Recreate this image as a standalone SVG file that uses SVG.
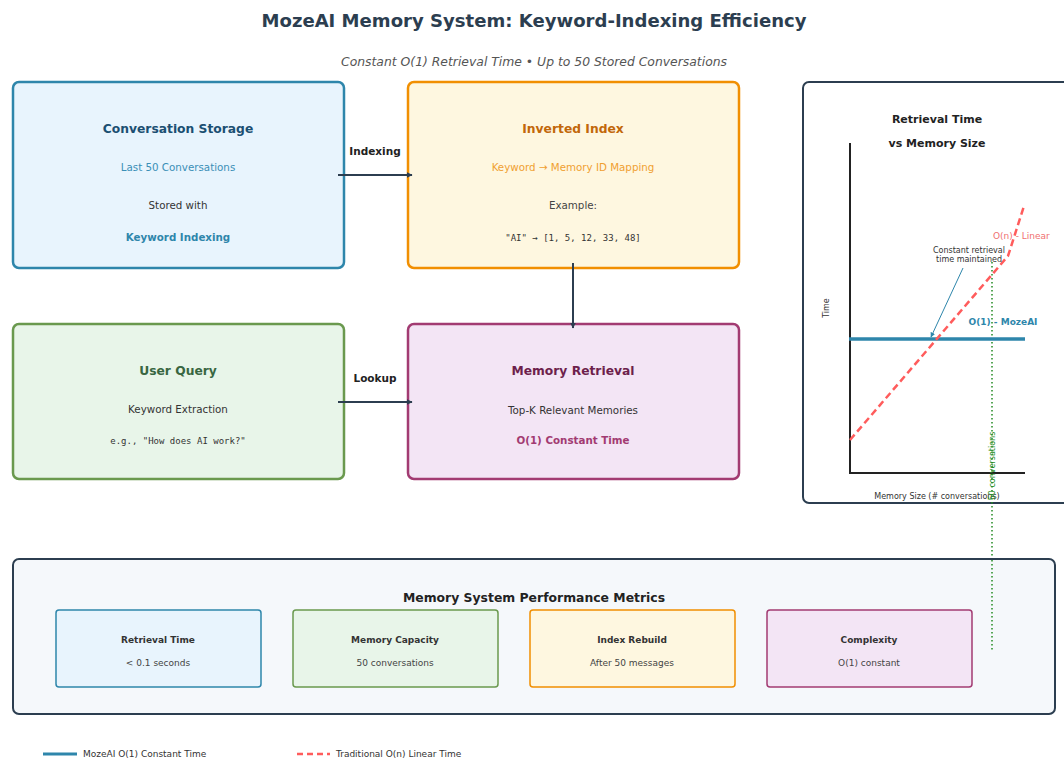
<svg xmlns="http://www.w3.org/2000/svg" width="1064" height="758" viewBox="0 0 1064 758">
<defs>
<marker id="ah" viewBox="0 0 10 10" refX="9" refY="5" markerWidth="6" markerHeight="6" orient="auto" markerUnits="userSpaceOnUse"><path d="M0,0 L10,5 L0,10 z" fill="#2c3e50"/></marker>
<marker id="ahb" viewBox="0 0 10 10" refX="9" refY="5" markerWidth="5" markerHeight="5" orient="auto" markerUnits="userSpaceOnUse"><path d="M0,0 L10,5 L0,10 z" fill="#2e86ab"/></marker>
</defs>
<style>
text{font-family:"DejaVu Sans","Liberation Sans",sans-serif;text-anchor:middle}
.t{font-weight:bold;font-size:12.3px}
.s{font-size:10.3px}
.b{font-weight:bold;font-size:10.3px}
.m{font-family:"DejaVu Sans Mono","Liberation Mono",monospace;font-size:9px;fill:#333}
.blue{fill:#e8f4fd;stroke:#2e86ab}
.green{fill:#e8f5e9;stroke:#6a994e}
.orange{fill:#fef7e0;stroke:#f18f01}
.purple{fill:#f3e5f5;stroke:#a23b72}
.node rect{stroke-width:2.5}
.met rect{stroke-width:1.5}
.mt{font-weight:bold;font-size:9px;fill:#333}
.mv{font-size:9px;fill:#444}
.conn line{stroke:#2c3e50;stroke-width:2;marker-end:url(#ah)}
.cl{font-weight:bold;font-size:10.5px;fill:#222}
.sm{font-size:8px;fill:#333}
.lg{font-size:9px;fill:#333;text-anchor:start}
</style>
<rect width="1064" height="758" fill="#ffffff"/>
<text x="534" y="27" style="font-size:18px;font-weight:bold;fill:#2c3e50" textLength="545" lengthAdjust="spacingAndGlyphs">MozeAI Memory System: Keyword-Indexing Efficiency</text>
<text x="534" y="66" style="font-size:13px;font-style:italic;fill:#555" textLength="386" lengthAdjust="spacingAndGlyphs">Constant O(1) Retrieval Time • Up to 50 Stored Conversations</text>

<g id="conversation-storage" class="node">
<rect x="13" y="82" width="331" height="186" rx="6" class="blue"/>
<text x="178" y="133" class="t" fill="#1b4f72">Conversation Storage</text>
<text x="178" y="171" class="s" fill="#3a8fb7">Last 50 Conversations</text>
<text x="178" y="209" class="s" fill="#333">Stored with</text>
<text x="178" y="241" class="b" fill="#2e86ab">Keyword Indexing</text>
</g>
<g id="inverted-index" class="node">
<rect x="408" y="82" width="331" height="186" rx="6" class="orange"/>
<text x="573" y="133" class="t" fill="#c2670a">Inverted Index</text>
<text x="573" y="171" class="s" fill="#f0a030">Keyword → Memory ID Mapping</text>
<text x="573" y="209" class="s" fill="#444">Example:</text>
<text x="573" y="241" class="m">"AI" → [1, 5, 12, 33, 48]</text>
</g>
<g id="user-query" class="node">
<rect x="13" y="324" width="331" height="155" rx="6" class="green"/>
<text x="178" y="375" class="t" fill="#386641">User Query</text>
<text x="178" y="413" class="s" fill="#333">Keyword Extraction</text>
<text x="178" y="444" class="m">e.g., "How does AI work?"</text>
</g>
<g id="memory-retrieval" class="node">
<rect x="408" y="324" width="331" height="155" rx="6" class="purple"/>
<text x="573" y="375" class="t" fill="#6d1f4c">Memory Retrieval</text>
<text x="573" y="414" class="s" fill="#333">Top-K Relevant Memories</text>
<text x="573" y="444" class="b" fill="#a23b72">O(1) Constant Time</text>
</g>

<g id="connectors" class="conn">
<line x1="338" y1="175" x2="412" y2="175"/>
<text x="375" y="155" class="cl">Indexing</text>
<line x1="573" y1="263" x2="573" y2="328"/>
<line x1="338" y1="402" x2="412" y2="402"/>
<text x="375" y="382" class="cl">Lookup</text>
</g>

<g id="chart">
<rect x="803" y="82" width="270" height="421" rx="6" fill="#ffffff" stroke="#2c3e50" stroke-width="2"/>
<text x="937" y="123" style="font-weight:bold;font-size:11px;fill:#222">Retrieval Time</text>
<text x="937" y="147" style="font-weight:bold;font-size:11px;fill:#222">vs Memory Size</text>
<line x1="850" y1="143" x2="850" y2="473" stroke="#222" stroke-width="2"/>
<line x1="849" y1="473" x2="1025" y2="473" stroke="#222" stroke-width="2"/>
<text x="829" y="308" class="sm" transform="rotate(-90 829 308)">Time</text>
<text x="937" y="499" class="sm">Memory Size (# conversations)</text>
<line x1="992" y1="262" x2="992" y2="652" stroke="#228b22" stroke-width="1.5" stroke-dasharray="1.5 2.5"/>
<text x="995" y="466" class="sm" style="fill:#228b22" transform="rotate(-90 995 466)">50 conversations</text>
<line x1="849" y1="339" x2="1025" y2="339" stroke="#2e86ab" stroke-width="3.5"/>
<polyline points="850,440 1008,256 1024,206" fill="none" stroke="#ff5c5c" stroke-width="2.5" stroke-dasharray="7 4"/>
<text x="993" y="239" style="font-size:9px;fill:#f07070;text-anchor:start">O(n) - Linear</text>
<text x="969" y="253" class="sm">Constant retrieval</text>
<text x="969" y="262" class="sm">time maintained</text>
<line x1="963" y1="268" x2="931" y2="337" stroke="#2e86ab" stroke-width="1" marker-end="url(#ahb)"/>
<text x="1003" y="325" style="font-weight:bold;font-size:9px;fill:#2e86ab">O(1) - MozeAI</text>
</g>

<g id="metrics">
<rect x="13" y="559" width="1042" height="155" rx="6" fill="#f5f8fb" stroke="#2c3e50" stroke-width="2"/>
<text x="534" y="602" style="font-weight:bold;font-size:12.4px;fill:#222">Memory System Performance Metrics</text>
<g id="metric-retrieval" class="met"><rect x="56" y="610" width="205" height="77" rx="3" class="blue"/><text x="158" y="643" class="mt">Retrieval Time</text><text x="158" y="666" class="mv">&lt; 0.1 seconds</text></g>
<g id="metric-capacity" class="met"><rect x="293" y="610" width="205" height="77" rx="3" class="green"/><text x="395" y="643" class="mt">Memory Capacity</text><text x="395" y="666" class="mv">50 conversations</text></g>
<g id="metric-rebuild" class="met"><rect x="530" y="610" width="205" height="77" rx="3" class="orange"/><text x="632" y="643" class="mt">Index Rebuild</text><text x="632" y="666" class="mv">After 50 messages</text></g>
<g id="metric-complexity" class="met"><rect x="767" y="610" width="205" height="77" rx="3" class="purple"/><text x="869" y="643" class="mt">Complexity</text><text x="869" y="666" class="mv">O(1) constant</text></g>
</g>
<line x1="992" y1="560" x2="992" y2="652" stroke="#228b22" stroke-width="1.5" stroke-dasharray="1.5 2.5"/>

<g id="legend">
<line x1="43" y1="754" x2="77" y2="754" stroke="#2e86ab" stroke-width="3"/>
<text x="83" y="757" class="lg">MozeAI O(1) Constant Time</text>
<line x1="297" y1="754" x2="330" y2="754" stroke="#ff5c5c" stroke-width="2.5" stroke-dasharray="6 4"/>
<text x="336" y="757" class="lg">Traditional O(n) Linear Time</text>
</g>
</svg>
